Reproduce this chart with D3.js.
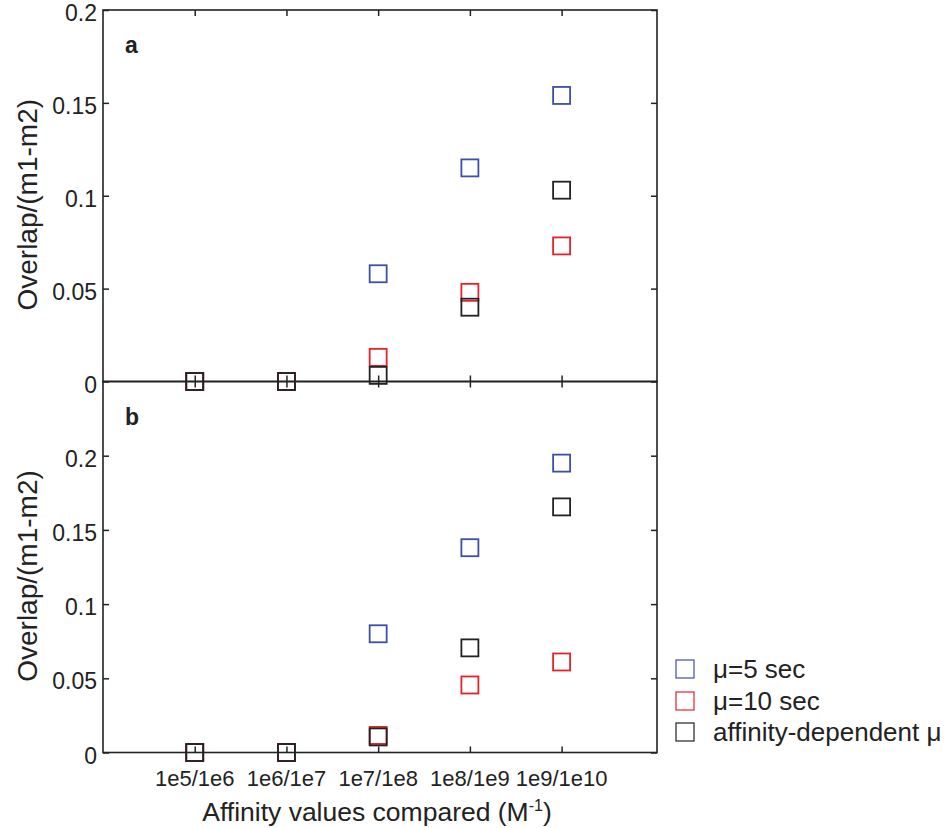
<!DOCTYPE html>
<html>
<head>
<meta charset="utf-8">
<script src="https://cdn.jsdelivr.net/npm/d3@7"></script>
<style>
  body { margin: 0; background: #fff; }
  text { font-family: "Liberation Sans", Arial, sans-serif; fill: #222; }
</style>
</head>
<body>
<div id="chart"></div>
<script>
// categories on the x axis
var categories = ["1e5/1e6", "1e6/1e7", "1e7/1e8", "1e8/1e9", "1e9/1e10"];

// panel a
var a_mu5  = [0, 0, 0.058, 0.115, 0.154];
var a_mu10 = [0, 0, 0.013, 0.048, 0.073];
var a_dep  = [0, 0, 0.0033, 0.040, 0.103];

// panel b
var b_mu5  = [0, 0, 0.080, 0.138, 0.195];
var b_mu10 = [0, 0, 0.0115, 0.0455, 0.061];
var b_dep  = [0, 0, 0.0105, 0.0705, 0.1655];

var yTicks = [0, 0.05, 0.1, 0.15, 0.2];
var seriesNames = ["\u03bc=5 sec", "\u03bc=10 sec", "affinity-dependent \u03bc"];
var seriesCols = ["#3f4fa6", "#e3232b", "#222222"];

var w = 948, h = 828;
var left = 103, right = 657;
var tickLen = 6;
var msize = 17;

var svg = d3.select("#chart").append("svg")
  .attr("width", w)
  .attr("height", h);

var x = d3.scaleLinear().domain([0, 6.04]).range([left, right]);

var panels = [
  {label: "a", y: d3.scaleLinear().domain([0, 0.2]).range([381.5, 10]), data: [a_mu5, a_mu10, a_dep]},
  {label: "b", y: d3.scaleLinear().domain([0, 0.25]).range([752.5, 381.5]), data: [b_mu5, b_mu10, b_dep]}
];

var fmt = d3.format("~g");

panels.forEach(function(p) {
  var g = svg.append("g");
  var y0 = p.y.range()[0], y1 = p.y.range()[1];

  // markers: blue, red, then black on top
  p.data.forEach(function(vals, si) {
    g.selectAll(null)
      .data(vals)
      .enter().append("rect")
        .attr("x", function(d, i) { return x(i + 1) - msize / 2; })
        .attr("y", function(d) { return p.y(d) - msize / 2; })
        .attr("width", msize)
        .attr("height", msize)
        .attr("fill", "none")
        .attr("stroke", seriesCols[si])
        .attr("stroke-width", 1.8);
  });

  // left axis, ticks inward
  var yl = g.append("g").attr("transform", "translate(" + left + ",0)")
    .call(d3.axisLeft(p.y).tickValues(yTicks).tickSizeInner(-tickLen).tickSizeOuter(0).tickPadding(6).tickFormat(fmt));
  yl.selectAll("text").attr("font-size", 23).attr("fill", "#222").attr("dy", "0.46em");

  // right axis, ticks inward, no labels
  g.append("g").attr("transform", "translate(" + right + ",0)")
    .call(d3.axisRight(p.y).tickValues(yTicks).tickSizeInner(-tickLen).tickSizeOuter(0).tickFormat(""));

  // bottom and top x ticks, inward
  g.append("g").attr("transform", "translate(0," + y0 + ")")
    .call(d3.axisBottom(x).tickValues([1, 2, 3, 4, 5]).tickSizeInner(-tickLen).tickSizeOuter(0).tickFormat(""));
  g.append("g").attr("transform", "translate(0," + y1 + ")")
    .call(d3.axisTop(x).tickValues([1, 2, 3, 4, 5]).tickSizeInner(-tickLen).tickSizeOuter(0).tickFormat(""));

  g.selectAll(".domain").remove();
  g.selectAll(".tick line").attr("stroke", "#222").attr("stroke-width", 1.5);

  // frame
  g.append("rect")
    .attr("x", left).attr("y", y1)
    .attr("width", right - left).attr("height", y0 - y1)
    .attr("fill", "none").attr("stroke", "#222").attr("stroke-width", 1.6);

  // panel letter
  g.append("text")
    .attr("x", left + 22)
    .attr("y", y1 + 43)
    .attr("font-size", 23)
    .attr("font-weight", "bold")
    .text(p.label);

  // y title
  g.append("text")
    .attr("transform", "translate(37," + ((y0 + y1) / 2 + 9) + ") rotate(-90)")
    .attr("text-anchor", "middle")
    .attr("font-size", 28)
    .text("Overlap/(m1-m2)");
});

// x tick labels under panel b
svg.append("g").selectAll("text")
  .data(categories)
  .enter().append("text")
    .attr("x", function(d, i) { return x(i + 1); })
    .attr("y", 786)
    .attr("text-anchor", "middle")
    .attr("font-size", 22)
    .text(function(d) { return d; });

// x title
var xt = svg.append("text")
  .attr("x", 377)
  .attr("y", 821)
  .attr("text-anchor", "middle")
  .attr("font-size", 26.5);
xt.append("tspan").text("Affinity values compared (M");
xt.append("tspan").attr("font-size", 16).attr("dy", -10).text("-1");
xt.append("tspan").attr("dy", 10).text(")");

// legend
var leg = svg.append("g");
var legY = [669, 701, 732];
seriesNames.forEach(function(name, i) {
  leg.append("rect")
    .attr("x", 676).attr("y", legY[i] - 9)
    .attr("width", 18).attr("height", 18)
    .attr("fill", "none")
    .attr("stroke", seriesCols[i])
    .attr("stroke-width", 1.2);
  leg.append("text")
    .attr("x", 713)
    .attr("y", legY[i] + 9)
    .attr("font-size", 26)
    .text(name);
});
</script>
</body>
</html>
